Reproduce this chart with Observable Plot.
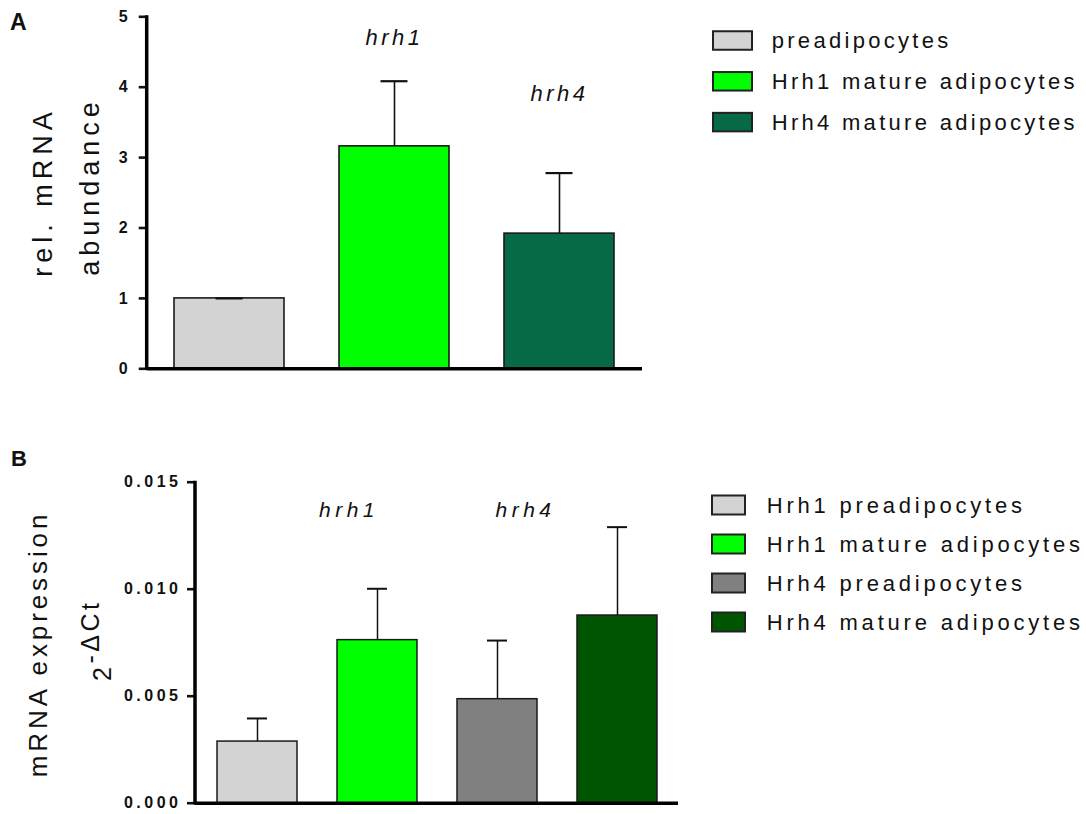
<!DOCTYPE html>
<html><head><meta charset="utf-8">
<script src="https://cdn.jsdelivr.net/npm/d3@7"></script>
<script src="https://cdn.jsdelivr.net/npm/@observablehq/plot@0.6"></script>
<style>
body{margin:0;background:#fff;}
#wrap{position:relative;width:1086px;height:814px;overflow:hidden;font-family:"Liberation Sans",Arial,sans-serif;}
#wrap > svg{position:absolute;left:0;}
</style></head><body><div id="wrap"></div>
<script>
// ---------- Panel A data ----------
const catsA = ["preadipocytes", "Hrh1 mature adipocytes", "Hrh4 mature adipocytes"];
const meanA = [1.0, 3.16, 1.92];
const errA = [0.0, 0.925, 0.86];
const colorsA = ["#d3d3d3", "#00ff00", "#066a46"];
const ticksA = [0, 1, 2, 3, 4, 5];
const geneLabelsA = ["hrh1", "hrh4"];
const geneLabelCatsA = ["Hrh1 mature adipocytes", "Hrh4 mature adipocytes"];
const geneLabelYA = [4.70, 3.90];

// ---------- Panel B data ----------
const catsB = ["Hrh1 preadipocytes", "Hrh1 mature adipocytes", "Hrh4 preadipocytes", "Hrh4 mature adipocytes"];
const meanB = [0.00288, 0.00762, 0.00486, 0.00877];
const errB = [0.00108, 0.0024, 0.00274, 0.00413];
const colorsB = ["#d3d3d3", "#00ff00", "#808080", "#005500"];
const ticksB = [0, 0.005, 0.010, 0.015];
const geneLabelsB = ["hrh1", "hrh4"];
const geneLabelCatsB = ["Hrh1 mature adipocytes", "Hrh4 preadipocytes"];
const geneLabelYB = [0.0137, 0.0137];

const FONT = '"Liberation Sans", Arial, sans-serif';
const wrap = document.getElementById("wrap");

const dataA = catsA.map((c, i) => ({cat: c, mean: meanA[i], err: errA[i], color: colorsA[i]}));
const dataB = catsB.map((c, i) => ({cat: c, mean: meanB[i], err: errB[i], color: colorsB[i]}));

const plotA = Plot.plot({
  width: 1086, height: 400,
  marginTop: 16.3, marginBottom: 31.7, marginLeft: 146.7, marginRight: 444,
  style: {fontFamily: FONT, background: "transparent", color: "#111"},
  x: {domain: catsA, axis: null, paddingInner: 1/3, paddingOuter: 1/6},
  y: {domain: [0, 5]},
  color: {type: "identity"},
  marks: [
    Plot.barY(dataA, {x: "cat", y: "mean", fill: "color", stroke: "#1a1a1a", strokeWidth: 1.6}),
    Plot.ruleX(dataA, {x: "cat", y1: d => d.mean, y2: d => d.mean + d.err, stroke: "#111", strokeWidth: 1.6}),
    Plot.tickY(dataA, {x: "cat", y: d => d.mean + d.err, stroke: "#111", strokeWidth: 2.2, inset: 41.5}),
    Plot.ruleY([0], {stroke: "#000", strokeWidth: 3.5}),
    Plot.axisY({ticks: ticksA, tickSize: 8, tickPadding: 8, strokeWidth: 2.6, fontSize: 16, fontWeight: "bold", label: null, tickFormat: d => String(d)}),
    Plot.text(geneLabelsA.map((t, i) => ({t, cat: geneLabelCatsA[i], y: geneLabelYA[i]})),
      {x: "cat", y: "y", text: "t", fontStyle: "italic", fontSize: 22, fill: "#111"})
  ]
});

const plotB = Plot.plot({
  width: 1086, height: 394,
  marginTop: 61.7, marginBottom: 11.3, marginLeft: 195, marginRight: 408,
  style: {fontFamily: FONT, background: "transparent", color: "#111", overflow: "visible"},
  x: {domain: catsB, axis: null, paddingInner: 1/3, paddingOuter: 1/6},
  y: {domain: [0, 0.015]},
  color: {type: "identity"},
  marks: [
    Plot.barY(dataB, {x: "cat", y: "mean", fill: "color", stroke: "#1a1a1a", strokeWidth: 1.5}),
    Plot.ruleX(dataB, {x: "cat", y1: d => d.mean, y2: d => d.mean + d.err, stroke: "#111", strokeWidth: 1.5}),
    Plot.tickY(dataB, {x: "cat", y: d => d.mean + d.err, stroke: "#111", strokeWidth: 2, inset: 30}),
    Plot.ruleY([0], {stroke: "#000", strokeWidth: 3.5}),
    Plot.axisY({ticks: ticksB, tickSize: 8, tickPadding: 6, strokeWidth: 2.6, fontSize: 16, fontWeight: "bold", label: null, tickFormat: d3.format(".3f")}),
    Plot.text([{t: geneLabelsB[0], cat: geneLabelCatsB[0], y: geneLabelYB[0]}],
      {x: "cat", y: "y", text: "t", dx: -28.5, fontStyle: "italic", fontSize: 21, fill: "#111"}),
    Plot.text([{t: geneLabelsB[1], cat: geneLabelCatsB[1], y: geneLabelYB[1]}],
      {x: "cat", y: "y", text: "t", dx: 28, fontStyle: "italic", fontSize: 21, fill: "#111"})
  ]
});

plotA.style.top = "0px";
plotB.style.top = "420px";
wrap.appendChild(plotA);
wrap.appendChild(plotB);

// axis lines, text styling
function finish(svg, ml, yTopPx, yBotPx, tickSpacing, labelSpacing) {
  const s = d3.select(svg);
  s.append("line").attr("x1", ml).attr("x2", ml).attr("y1", yTopPx - 1).attr("y2", yBotPx + 1.7)
    .attr("stroke", "#000").attr("stroke-width", 3.5);
  s.selectAll('g[aria-label="y-axis tick label"]')
    .style("font-size", "16px").style("font-weight", "bold");
  s.selectAll('g[aria-label="y-axis tick label"] text')
    .style("letter-spacing", tickSpacing + "px").style("font-size", "16px").style("font-weight", "bold");
  s.selectAll('g[aria-label="text"] text').style("letter-spacing", labelSpacing + "px");
}
const yA = plotA.scale("y"), yB = plotB.scale("y");
finish(plotA, 146.7, yA.apply(5), yA.apply(0), 3.5, 3.5);
finish(plotB, 195, yB.apply(0.015), yB.apply(0), 3.5, 4.5);

// overlay: panel letters, axis titles, legends
const ov = d3.select(wrap).append("svg").attr("width", 1086).attr("height", 814)
  .style("top", "0px").style("pointer-events", "none")
  .attr("font-family", FONT).attr("fill", "#111");

ov.append("text").attr("x", 10).attr("y", 30).style("font-size", "23px").attr("font-weight", "bold").text("A");
ov.append("text").attr("x", 11).attr("y", 466).style("font-size", "22px").attr("font-weight", "bold").text("B");

function vtext(x, y, str, size, spacing, anchor) {
  return ov.append("text").attr("transform", `translate(${x},${y}) rotate(-90)`)
    .attr("text-anchor", anchor || "middle").style("font-size", size + "px")
    .style("letter-spacing", spacing + "px").text(str);
}
vtext(52, 192, "rel. mRNA", 27, 5);
vtext(99, 186.5, "abundance", 27, 5);
vtext(47, 644, "mRNA expression", 26, 3.9);
const pw = ov.append("text").attr("transform", `translate(111,681) rotate(-90)`)
  .attr("text-anchor", "start").style("font-size", "25px").style("letter-spacing", "3.5px");
pw.append("tspan").text("2");
pw.append("tspan").attr("dy", -12).text("-\u0394Ct");

function legend(cats, colors, x, yc0, step, w, h, tx, size, spacing) {
  cats.forEach((c, i) => {
    const yc = yc0 + i * step;
    ov.append("rect").attr("x", x).attr("y", yc - h / 2).attr("width", w).attr("height", h)
      .attr("fill", colors[i]).attr("stroke", "#222").attr("stroke-width", 2);
    ov.append("text").attr("x", tx).attr("y", yc).attr("dy", "0.36em").style("font-size", size + "px")
      .style("letter-spacing", spacing + "px").text(c);
  });
}
legend(catsA, colorsA, 713, 40.5, 40.8, 39, 18.5, 771.7, 22, 3.3);
legend(catsB, colorsB, 712, 505, 39, 33, 19, 766.7, 22, 3.8);
</script></body></html>
